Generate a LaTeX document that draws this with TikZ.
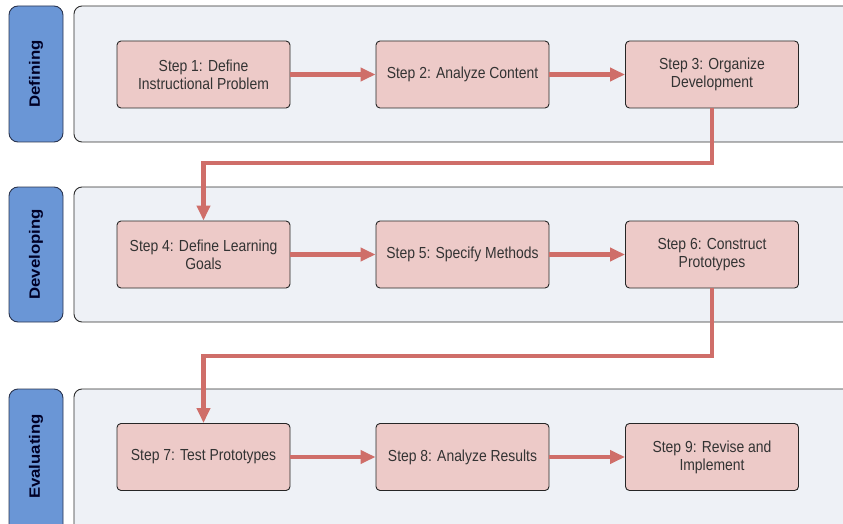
\documentclass[tikz,border=0pt]{standalone}
\usepackage{fontspec}
\setmainfont{Liberation Sans}
\newfontfamily\stepfont[FakeStretch=0.87]{Liberation Sans}
\newfontfamily\lanefont[FakeStretch=1.12]{Liberation Sans}
\usetikzlibrary{arrows.meta}

\definecolor{lanebg}{HTML}{EEF1F6}
\definecolor{laneline}{HTML}{2E2E2E}
\definecolor{tagfill}{HTML}{6A96D6}
\definecolor{tagline}{HTML}{2A3550}
\definecolor{stepfill}{HTML}{EDCAC8}
\definecolor{stepline}{HTML}{262626}
\definecolor{steptext}{HTML}{333333}
\definecolor{flow}{HTML}{CF6E69}

\tikzset{
  lanebox/.style={draw=laneline, fill=lanebg, line width=0.9pt, rounded corners=8pt},
  lanetag/.style={draw=tagline, fill=tagfill, line width=0.9pt, rounded corners=9pt},
  tagtext/.style={rotate=90, text=black!85!blue, font=\lanefont\bfseries\fontsize{15}{17}\selectfont},
  stepbox/.style={draw=stepline, fill=stepfill, line width=0.9pt, rounded corners=4pt,
    minimum width=173pt, minimum height=67pt, inner sep=2pt, align=center,
    text=steptext, font=\stepfont\fontsize{16}{18}\selectfont},
  flowline/.style={draw=flow, line width=4.5pt,
    -{Triangle[length=15pt,width=13pt]}},
  flowturn/.style={flowline, rounded corners=0pt}
}

\begin{document}
\begin{tikzpicture}[x=1pt, y=-1pt]
  \useasboundingbox (0,0) rectangle (843,524);
  \clip (0,0) rectangle (843,524);

  % swimlanes (they run on past the right and bottom edges)
  \draw[lanebox] (74,6) rectangle (870,142);
  \draw[lanebox] (74,187) rectangle (870,322);
  \draw[lanebox] (74,389) rectangle (870,540);

  % lane labels
  \draw[lanetag] (9,6) rectangle (63,142);
  \draw[lanetag] (9,187) rectangle (63,322);
  \draw[lanetag] (9,389) rectangle (63,540);
  \node[tagtext] (tDef) at (36,74) {Defining};
  \node[tagtext] (tDev) at (36,254.5) {Developing};
  \node[tagtext] (tEva) at (36,456.5) {Evaluating};

  % steps
  \node[stepbox] (s1) at (203.5,74.5) {Step 1: Define\\Instructional Problem};
  \node[stepbox] (s2) at (462.5,74.5) {Step 2: Analyze Content};
  \node[stepbox] (s3) at (712,74.5) {Step 3: Organize\\Development};
  \node[stepbox] (s4) at (203.5,254.5) {Step 4: Define Learning\\Goals};
  \node[stepbox] (s5) at (462.5,254.5) {Step 5: Specify Methods};
  \node[stepbox] (s6) at (712,254.5) {Step 6: Construct\\Prototypes};
  \node[stepbox] (s7) at (203.5,457) {Step 7: Test Prototypes};
  \node[stepbox] (s8) at (462.5,457) {Step 8: Analyze Results};
  \node[stepbox] (s9) at (712,457) {Step 9: Revise and\\Implement};

  % turning points between lanes
  \coordinate (k1) at (450,163);
  \coordinate (k2) at (450,356);

  % flow
  \draw[flowline] (s1) -- (s2);
  \draw[flowline] (s2) -- (s3);
  \draw[flowturn] (s3.south) |- (k1) -| (s4.north);
  \draw[flowline] (s4) -- (s5);
  \draw[flowline] (s5) -- (s6);
  \draw[flowturn] (s6.south) |- (k2) -| (s7.north);
  \draw[flowline] (s7) -- (s8);
  \draw[flowline] (s8) -- (s9);
\end{tikzpicture}
\end{document}
